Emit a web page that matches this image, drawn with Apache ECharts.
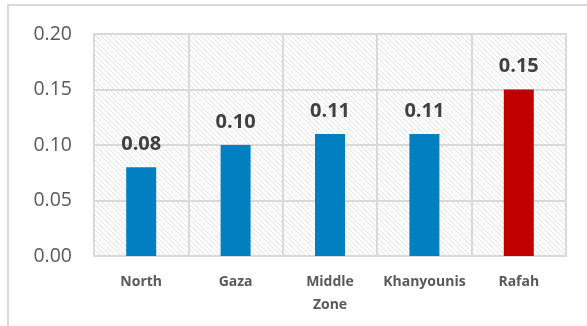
<!DOCTYPE html>
<html>
<head>
<meta charset="utf-8">
<script src="https://cdn.jsdelivr.net/npm/echarts@6/dist/echarts.min.js"></script>
<style>
html,body{margin:0;padding:0;background:#fff;}
#frame{position:absolute;left:7px;top:4px;width:600px;height:340px;border-left:2px solid #d9d9d9;border-top:2px solid #d9d9d9;}
#chart{position:absolute;left:0;top:0;width:587px;height:326px;}
</style>
</head>
<body>
<div id="frame"></div>
<div id="chart"></div>
<script>
const categories = ['North', 'Gaza', 'Middle\nZone', 'Khanyounis', 'Rafah'];
const values = [0.08, 0.10, 0.11, 0.11, 0.15];
const barColors = ['#0080c0', '#0080c0', '#0080c0', '#0080c0', '#c00000'];
const yTicks = { min: 0, max: 0.20, interval: 0.05 };

const pc = document.createElement('canvas');
pc.width = 5; pc.height = 5;
const g = pc.getContext('2d');
g.fillStyle = '#ffffff';
g.fillRect(0, 0, 5, 5);
g.strokeStyle = '#e2e2e2';
g.lineWidth = 1;
g.beginPath();
g.moveTo(-1, -1); g.lineTo(6, 6);
g.moveTo(-1, 4); g.lineTo(1, 6);
g.moveTo(4, -1); g.lineTo(6, 1);
g.stroke();

const chart = echarts.init(document.getElementById('chart'));
chart.setOption({
  animation: false,
  grid: { left: 94, right: 21, top: 34, bottom: 70, show: true,
    backgroundColor: { image: pc, repeat: 'repeat' },
    borderColor: '#d9d9d9', borderWidth: 2 },
  xAxis: {
    type: 'category', data: categories,
    axisLine: { show: true, lineStyle: { color: '#d9d9d9', width: 2 } },
    axisTick: { show: false },
    splitLine: { show: true, lineStyle: { color: '#d9d9d9', width: 2 } },
    axisLabel: { color: '#595959', fontFamily: 'Open Sans', fontWeight: 'bold', fontSize: 14,
      margin: 15, lineHeight: 23, interval: 0 }
  },
  yAxis: {
    type: 'value', min: yTicks.min, max: yTicks.max, interval: yTicks.interval,
    axisLine: { show: false }, axisTick: { show: false },
    splitLine: { lineStyle: { color: '#d9d9d9', width: 2 } },
    axisLabel: { color: '#595959', fontFamily: 'Open Sans', fontSize: 19.5, margin: 22,
      formatter: v => v.toFixed(2) }
  },
  series: [{
    type: 'bar', barWidth: 30,
    data: values.map((v, i) => ({ value: v, itemStyle: { color: barColors[i] } })),
    label: { show: true, position: 'top', distance: 13, color: '#404040',
      fontFamily: 'Open Sans', fontWeight: 'bold', fontSize: 20,
      formatter: p => p.value.toFixed(2) }
  }]
});
</script>
</body>
</html>
